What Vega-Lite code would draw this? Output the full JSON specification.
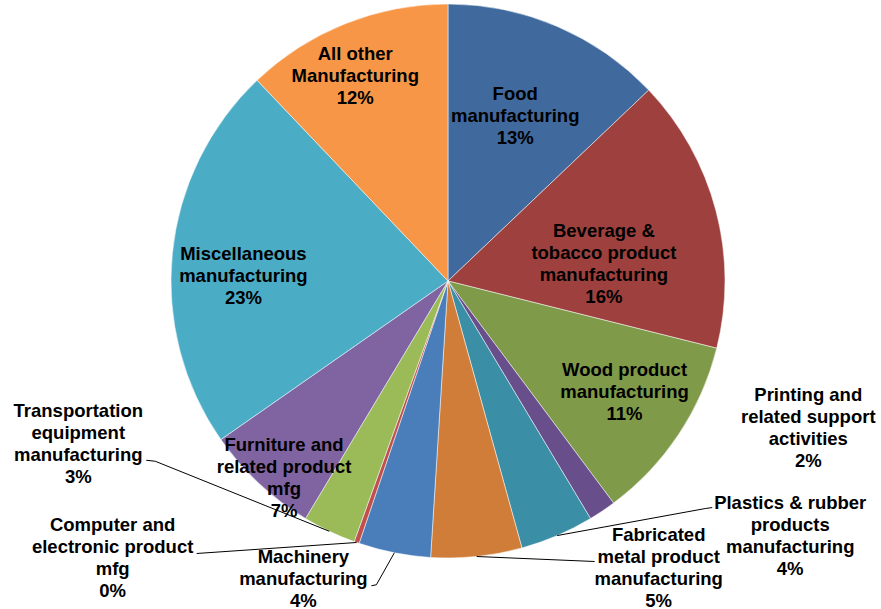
{
  "$schema": "https://vega.github.io/schema/vega-lite/v6.json",
  "width": 866,
  "height": 562,
  "autosize": {"type": "none"},
  "padding": {"left": 15, "top": 0, "right": 0, "bottom": 47},
  "background": "#ffffff",
  "config": {
    "view": {"stroke": null},
    "text": {"font": "Liberation Sans", "fontSize": 18.5, "fontWeight": "bold", "lineHeight": 22, "lineBreak": "\n", "align": "center", "baseline": "middle", "color": "#000000"},
    "rule": {"color": "#000000", "strokeWidth": 1}
  },
  "data": {
    "values": [
      {"order": 1, "name": "Food\nmanufacturing", "share": 12.9},
      {"order": 2, "name": "Beverage &\ntobacco product\nmanufacturing", "share": 16.0},
      {"order": 3, "name": "Wood product\nmanufacturing", "share": 10.9},
      {"order": 4, "name": "Printing and\nrelated support\nactivities", "share": 1.6},
      {"order": 5, "name": "Plastics & rubber\nproducts\nmanufacturing", "share": 4.3},
      {"order": 6, "name": "Fabricated\nmetal product\nmanufacturing", "share": 5.3},
      {"order": 7, "name": "Machinery\nmanufacturing", "share": 4.2},
      {"order": 8, "name": "Computer and\nelectronic product\nmfg", "share": 0.3},
      {"order": 9, "name": "Transportation\nequipment\nmanufacturing", "share": 3.1},
      {"order": 10, "name": "Furniture and\nrelated product\nmfg", "share": 6.7},
      {"order": 11, "name": "Miscellaneous\nmanufacturing", "share": 22.6},
      {"order": 12, "name": "All other\nManufacturing", "share": 12.1}
    ]
  },
  "transform": [
    {"joinaggregate": [{"op": "sum", "field": "share", "as": "total"}]},
    {"window": [{"op": "sum", "field": "share", "as": "cum"}], "sort": [{"field": "order", "order": "ascending"}], "frame": [null, 0]},
    {"calculate": "2*PI*(datum.cum - datum.share/2)/datum.total", "as": "a"},
    {"calculate": "277*sin(datum.a)", "as": "ex"},
    {"calculate": "277*cos(datum.a)", "as": "ey"},
    {"calculate": "datum.name + '\\n' + format(datum.share, '.0f') + '%'", "as": "label"}
  ],
  "layer": [
    {
      "mark": {"type": "arc", "outerRadius": 277, "stroke": "#ffffff", "strokeWidth": 0.5},
      "encoding": {
        "theta": {"field": "share", "type": "quantitative", "stack": true},
        "order": {"field": "order", "type": "quantitative"},
        "color": {
          "field": "name", "type": "nominal", "legend": null,
          "scale": {
            "domain": ["Food\nmanufacturing", "Beverage &\ntobacco product\nmanufacturing", "Wood product\nmanufacturing", "Printing and\nrelated support\nactivities", "Plastics & rubber\nproducts\nmanufacturing", "Fabricated\nmetal product\nmanufacturing", "Machinery\nmanufacturing", "Computer and\nelectronic product\nmfg", "Transportation\nequipment\nmanufacturing", "Furniture and\nrelated product\nmfg", "Miscellaneous\nmanufacturing", "All other\nManufacturing"],
            "range": ["#40699D", "#9E413E", "#7F9A48", "#684F8C", "#3A8EA5", "#CF7D38", "#4A7EBB", "#C0504D", "#9BBB59", "#8064A2", "#4BACC6", "#F79646"]
          }
        }
      }
    },
    {
      "encoding": {
        "x": {"field": "ex", "type": "quantitative", "axis": null, "scale": {"domain": [-433, 433], "nice": false, "zero": false}},
        "y": {"field": "ey", "type": "quantitative", "axis": null, "scale": {"domain": [-281, 281], "nice": false, "zero": false}},
        "text": {"field": "label"}
      },
      "layer": [
        {"transform": [{"filter": "datum.order == 1"}], "mark": {"type": "text", "dx": -42, "dy": 68}},
        {"transform": [{"filter": "datum.order == 2"}], "mark": {"type": "text", "dx": -112, "dy": 21}},
        {"transform": [{"filter": "datum.order == 3"}], "mark": {"type": "text", "dx": -54, "dy": -65}},
        {"transform": [{"filter": "datum.order == 4"}], "mark": {"type": "text", "dx": 206, "dy": -116}},
        {"transform": [{"filter": "datum.order == 5"}], "mark": {"type": "text", "dx": 233, "dy": -33}},
        {"transform": [{"filter": "datum.order == 6"}], "mark": {"type": "text", "dx": 182, "dy": -22}},
        {"transform": [{"filter": "datum.order == 7"}], "mark": {"type": "text", "dx": -91, "dy": 4}},
        {"transform": [{"filter": "datum.order == 8"}], "mark": {"type": "text", "dx": -244, "dy": -17}},
        {"transform": [{"filter": "datum.order == 9"}], "mark": {"type": "text", "dx": -251, "dy": -120}},
        {"transform": [{"filter": "datum.order == 10"}], "mark": {"type": "text", "dx": 25, "dy": -39}},
        {"transform": [{"filter": "datum.order == 11"}], "mark": {"type": "text", "dx": 71, "dy": 1}},
        {"transform": [{"filter": "datum.order == 12"}], "mark": {"type": "text", "dx": 10, "dy": 30}},
        {"transform": [{"filter": "datum.order == 5"}], "mark": {"type": "rule", "x2Offset": 148, "y2Offset": -27},
         "encoding": {"x2": {"field": "ex"}, "y2": {"field": "ey"}, "text": null}},
        {"transform": [{"filter": "datum.order == 5"}], "mark": {"type": "rule", "xOffset": 148, "yOffset": -27, "x2Offset": 155, "y2Offset": -28},
         "encoding": {"x2": {"field": "ex"}, "y2": {"field": "ey"}, "text": null}},
        {"transform": [{"filter": "datum.order == 6"}], "mark": {"type": "rule", "x2Offset": 118, "y2Offset": 5},
         "encoding": {"x2": {"field": "ex"}, "y2": {"field": "ey"}, "text": null}},
        {"transform": [{"filter": "datum.order == 7"}], "mark": {"type": "rule", "x2Offset": -18, "y2Offset": 32},
         "encoding": {"x2": {"field": "ex"}, "y2": {"field": "ey"}, "text": null}},
        {"transform": [{"filter": "datum.order == 7"}], "mark": {"type": "rule", "xOffset": -18, "yOffset": 32, "x2Offset": -23, "y2Offset": 33},
         "encoding": {"x2": {"field": "ex"}, "y2": {"field": "ey"}, "text": null}},
        {"transform": [{"filter": "datum.order == 8"}], "mark": {"type": "rule", "x2Offset": -160, "y2Offset": 11},
         "encoding": {"x2": {"field": "ex"}, "y2": {"field": "ey"}, "text": null}},
        {"transform": [{"filter": "datum.order == 9"}], "mark": {"type": "rule", "x2Offset": -174, "y2Offset": -70},
         "encoding": {"x2": {"field": "ex"}, "y2": {"field": "ey"}, "text": null}},
        {"transform": [{"filter": "datum.order == 9"}], "mark": {"type": "rule", "xOffset": -174, "yOffset": -70, "x2Offset": -183, "y2Offset": -71},
         "encoding": {"x2": {"field": "ex"}, "y2": {"field": "ey"}, "text": null}}
      ]
    }
  ]
}
